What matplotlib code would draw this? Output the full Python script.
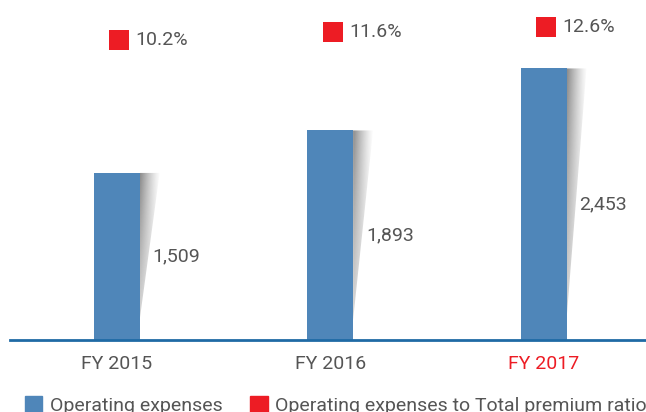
import numpy as np
import matplotlib.pyplot as plt
from matplotlib.patches import Polygon, Patch

plt.rcParams['font.family'] = ['Roboto', 'DejaVu Sans']

years = ['FY 2015', 'FY 2016', 'FY 2017']
opex = [1509, 1893, 2453]
ratio = [10.2, 11.6, 12.6]

blue = '#4f86b9'
red = '#ed1c24'
grey = '#555555'

fig = plt.figure(figsize=(6.46, 4.12), dpi=100)
ax = fig.add_axes([10 / 646, 72 / 412, 636 / 646, 340 / 412])
x = np.arange(len(years))
w = 0.215

bars = ax.bar(x, opex, width=w, color=blue, zorder=3, label='Operating expenses')

# soft shadow on the right side of each bar
sw = 20 / 213.4
for xi, v in zip(x, opex):
    x0 = xi + w / 2
    tri = Polygon([(x0, v), (x0 + sw, v), (x0, 180)], closed=True,
                  transform=ax.transData)
    gx = np.linspace(1, 0, 64)[None, :] ** 1.3
    gy = np.linspace(1, 0.35, 64)[:, None]
    rgba = np.zeros((64, 64, 4))
    rgba[..., :3] = 0.35
    rgba[..., 3] = 0.7 * gx * gy
    im = ax.imshow(rgba, extent=[x0, x0 + sw, 180, v], aspect='auto',
                   origin='upper', zorder=2, interpolation='bilinear')
    im.set_clip_path(tri)

for xi, v in zip(x, opex):
    ax.annotate(f'{v:,}', (xi + w / 2, v / 2), xytext=(9.4, 0),
                textcoords='offset points', ha='left', va='center',
                fontsize=14, color=grey)

ax.set_xlim(-0.5, 2.48)
ax.set_ylim(0, 3071)
ax.set_xticks(x)
ax.set_xticklabels(years, fontsize=14, color=grey)
ax.get_xticklabels()[-1].set_color(red)
ax.tick_params(axis='x', length=0, pad=11)
ax.set_yticks([])
for s in ['top', 'left', 'right']:
    ax.spines[s].set_visible(False)
ax.spines['bottom'].set_color('#1f6aa5')
ax.spines['bottom'].set_linewidth(2)
ax.spines['bottom'].set_zorder(4)

ax2 = ax.twinx()
ax2.set_ylim(-45.15, 17.58)
ax2.axis('off')
ax2.scatter(x + 0.012, ratio, marker='s', s=188, color=red, linewidths=0)
for xi, r in zip(x, ratio):
    ax2.annotate(f'{r:.1f}%', (xi + 0.012, r), xytext=(11.9, 0),
                 textcoords='offset points', ha='left', va='center',
                 fontsize=14, color=grey)

handles = [Patch(color=blue, label='Operating expenses'),
           Patch(color=red, label='Operating expenses to Total premium ratio')]
fig.legend(handles=handles, loc='upper left', bbox_to_anchor=(17 / 646, 1 - 388 / 412),
           ncol=2, frameon=False, fontsize=14, handlelength=0.9, handleheight=0.9,
           handletextpad=0.4, columnspacing=1.4, labelcolor=grey, borderaxespad=0)

fig.savefig('out.png', dpi=100)
